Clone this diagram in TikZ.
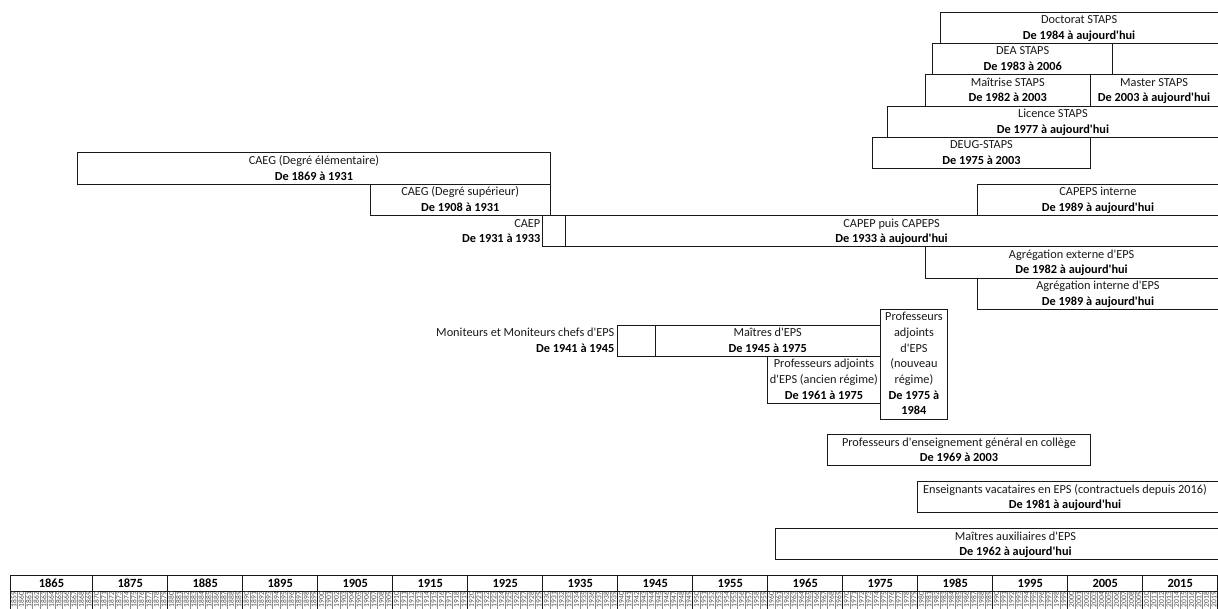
\documentclass[tikz,border=0pt]{standalone}
\usepackage{fontspec}
\setmainfont{Carlito}[Ligatures=TeXOff]
\usepackage{tikz}

\begin{document}
\begin{tikzpicture}[x=1pt,y=-1pt,
    boite/.style={draw=black!90,line width=0.75pt},
    lib/.style={anchor=base,inner sep=0pt,text=black!90,font=\fontsize{12.3}{14}\selectfont},
    dates/.style={lib,text=black,font=\fontsize{12.3}{14}\selectfont\bfseries},
    decen/.style={anchor=base,inner sep=0pt,font=\fontsize{12.5}{14}\selectfont\bfseries},
    annee/.style={inner sep=0pt,rotate=90,text=black!70,font=\fontsize{7.5}{8}\selectfont},
    axe/.style={draw=black!90,line width=0.75pt},
    fin/.style={draw=black!45,line width=0.45pt}]
    \useasboundingbox (0,0) rectangle (1218,609);
    % STAPS
    \draw[boite] (1218,12) -| (940.2,43.3) -- (1218,43.3);
    \node[lib] (doc1) at (1079.1,23.6) {Doctorat STAPS};
    \node[dates] (doc2) at (1079.1,39.25) {De 1984 à aujourd'hui};
    \draw[boite] (932.7,43.3) rectangle (1112.7,74.6);
    \node[lib] (dea1) at (1022.7,54.9) {DEA STAPS};
    \node[dates] (dea2) at (1022.7,70.55) {De 1983 à 2006};
    \draw[boite] (925.2,74.6) rectangle (1090.2,105.9);
    \node[lib] (mai1) at (1007.7,86.2) {Maîtrise STAPS};
    \node[dates] (mai2) at (1007.7,101.85) {De 1982 à 2003};
    \draw[boite] (1218,74.6) -| (1090.2,105.9) -- (1218,105.9);
    \node[lib] (mas1) at (1154.1,86.2) {Master STAPS};
    \node[dates] (mas2) at (1154.1,101.85) {De 2003 à aujourd'hui};
    \draw[boite] (1218,105.9) -| (887.7,137.2) -- (1218,137.2);
    \node[lib] (lic1) at (1052.9,117.5) {Licence STAPS};
    \node[dates] (lic2) at (1052.9,133.15) {De 1977 à aujourd'hui};
    \draw[boite] (872.7,137.2) rectangle (1090.2,168.5);
    \node[lib] (deug1) at (981.5,148.8) {DEUG-STAPS};
    \node[dates] (deug2) at (981.5,164.45) {De 1975 à 2003};
    % CAEG, CAEP, CAPEPS, agregation
    \draw[boite] (77.7,152.85) rectangle (550.2,184.15);
    \node[lib] (caeg1) at (313.95,164.45) {CAEG (Degré élémentaire)};
    \node[dates] (caeg2) at (313.95,180.1) {De 1869 à 1931};
    \draw[boite] (370.2,184.15) rectangle (550.2,215.45);
    \node[lib] (caegs1) at (460.2,195.75) {CAEG (Degré supérieur)};
    \node[dates] (caegs2) at (460.2,211.4) {De 1908 à 1931};
    \draw[boite] (1218,184.15) -| (977.7,215.45) -- (1218,215.45);
    \node[lib] (capi1) at (1097.9,195.75) {CAPEPS interne};
    \node[dates] (capi2) at (1097.9,211.4) {De 1989 à aujourd'hui};
    \draw[boite] (542.7,215.45) rectangle (565.2,246.75);
    \node[lib,anchor=base east] (caep1) at (540.5,227.05) {CAEP};
    \node[dates,anchor=base east] (caep2) at (540.5,242.7) {De 1931 à 1933};
    \draw[boite] (1218,215.45) -| (565.2,246.75) -- (1218,246.75);
    \node[lib] (capep1) at (891.6,227.05) {CAPEP puis CAPEPS};
    \node[dates] (capep2) at (891.6,242.7) {De 1933 à aujourd'hui};
    \draw[boite] (1218,246.75) -| (925.2,278.05) -- (1218,278.05);
    \node[lib] (agre1) at (1071.6,258.35) {Agrégation externe d'EPS};
    \node[dates] (agre2) at (1071.6,274.0) {De 1982 à aujourd'hui};
    \draw[boite] (1218,278.05) -| (977.7,309.35) -- (1218,309.35);
    \node[lib] (agri1) at (1097.9,289.65) {Agrégation interne d'EPS};
    \node[dates] (agri2) at (1097.9,305.3) {De 1989 à aujourd'hui};
    % corps
    \draw[boite] (617.7,325) rectangle (655.2,356.3);
    \node[lib,anchor=base east] (moni1) at (614.5,336.6) {Moniteurs et Moniteurs chefs d'EPS};
    \node[dates,anchor=base east] (moni2) at (614.5,352.25) {De 1941 à 1945};
    \draw[boite] (655.2,325) rectangle (880.2,356.3);
    \node[lib] (mait1) at (767.7,336.6) {Maîtres d'EPS};
    \node[dates] (mait2) at (767.7,352.25) {De 1945 à 1975};
    \draw[boite] (767.7,356.3) rectangle (880.2,403.25);
    \node[lib] (pa1) at (823.95,367.9) {Professeurs adjoints};
    \node[lib] (pa2) at (823.95,383.55) {d'EPS (ancien régime)};
    \node[dates] (pa3) at (823.95,399.2) {De 1961 à 1975};
    \draw[boite] (880.2,309.35) rectangle (947.7,418.9);
    \node[lib] (pn1) at (913.95,320.95) {Professeurs};
    \node[lib] (pn2) at (913.95,336.6) {adjoints};
    \node[lib] (pn3) at (913.95,352.25) {d'EPS};
    \node[lib] (pn4) at (913.95,367.9) {(nouveau};
    \node[lib] (pn5) at (913.95,383.55) {régime)};
    \node[dates] (pn6) at (913.95,399.2) {De 1975 à};
    \node[dates] (pn7) at (913.95,414.85) {1984};
    \draw[boite] (827.7,434.55) rectangle (1090.2,465.85);
    \node[lib] (peg1) at (958.95,446.15) {Professeurs d'enseignement général en collège};
    \node[dates] (peg2) at (958.95,461.8) {De 1969 à 2003};
    \draw[boite] (1218,481.5) -| (917.7,512.8) -- (1218,512.8);
    \node[lib] (vac1) at (1065,493.1) {Enseignants vacataires en EPS (contractuels depuis 2016)};
    \node[dates] (vac2) at (1065,508.75) {De 1981 à aujourd'hui};
    \draw[boite] (1218,528.45) -| (775.2,559.75) -- (1218,559.75);
    \node[lib] (aux1) at (1015.5,540.05) {Maîtres auxiliaires d'EPS};
    \node[dates] (aux2) at (1015.5,555.7) {De 1962 à aujourd'hui};
    % axe des annees
    \foreach \i in {0,...,161} \draw[fin] ({10.2+7.5*\i},591.05) -- ++(0,25);
    \draw[axe] (10.2,575.4) -- (1218,575.4);
    \draw[axe] (10.2,591.05) -- (1218,591.05);
    \draw[axe] (10.2,575.4) -- (10.2,615);
    \foreach \j in {0,...,15} \draw[axe] ({92.7+75*\j},575.4) -- ++(0,40);
    \node[decen] (dec1865) at (51.45,587.2) {1865};
    \foreach \d [count=\j from 0] in {1875,1885,...,2015}
        \node[decen] (dec\d) at ({130.2+75*\j},587.2) {\d};
    \foreach \a [count=\i from 0] in {1859,...,2019}
        \node[annee] (an\a) at ({13.95+7.5*\i},599.5) {\a};
\end{tikzpicture}
\end{document}
